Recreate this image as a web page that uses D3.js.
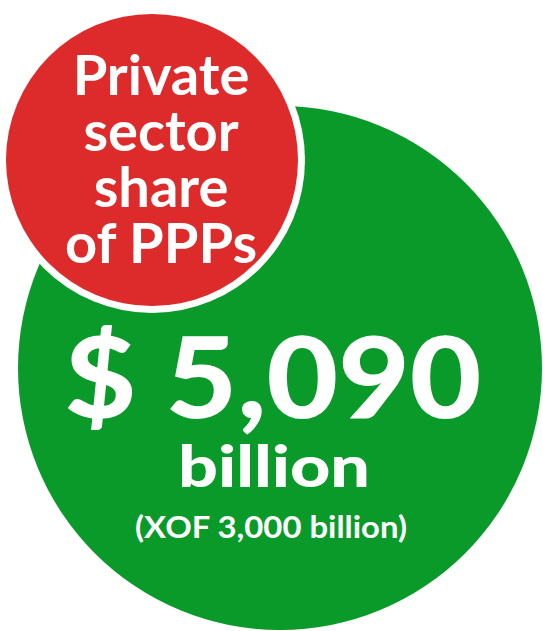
<!DOCTYPE html>
<html><head><meta charset="utf-8">
<script src="https://cdn.jsdelivr.net/npm/d3@7"></script>
<style>html,body{margin:0;padding:0;background:#fff;}svg{display:block;}</style>
</head><body>
<script>
const titleLines = ["Private", "sector", "share", "of PPPs"];
const valueLabel = "$ 5,090";
const unitLabel = "billion";
const subLabel = "(XOF 3,000 billion)";

const W = 543, H = 631;
const svg = d3.select("body").append("svg").attr("width", W).attr("height", H);

// green main circle
svg.append("circle").attr("cx", 280).attr("cy", 368).attr("r", 262).attr("fill", "#0a9a2a");
// red title circle with white ring
svg.append("circle").attr("cx", 152).attr("cy", 160).attr("r", 153).attr("fill", "#ffffff");
svg.append("circle").attr("cx", 152).attr("cy", 160).attr("r", 146).attr("fill", "#dd2a2a");

const y = d3.scaleLinear().domain([0, titleLines.length - 1]).range([95, 263]);
titleLines.forEach((t, i) => {
  svg.append("text").attr("x", 161).attr("y", y(i))
    .attr("text-anchor", "middle").attr("fill", "#fff")
    .attr("font-family", "Lato, 'Open Sans', sans-serif").attr("font-weight", 700)
    .attr("font-size", 56).text(t);
});

function label(txt, x, yy, fs, fw, len) {
  return svg.append("text").attr("x", x).attr("y", yy).attr("text-anchor", "middle")
    .attr("fill", "#fff").attr("font-family", "Lato, sans-serif").attr("font-weight", fw)
    .attr("font-size", fs).attr("textLength", len).attr("lengthAdjust", "spacingAndGlyphs")
    .text(txt);
}
label(valueLabel, 273, 418, 112, 900, 417);
label(unitLabel, 274, 487, 58, 900, 192);
label(subLabel, 271, 538, 31, 700, 272);
</script>
</body></html>
